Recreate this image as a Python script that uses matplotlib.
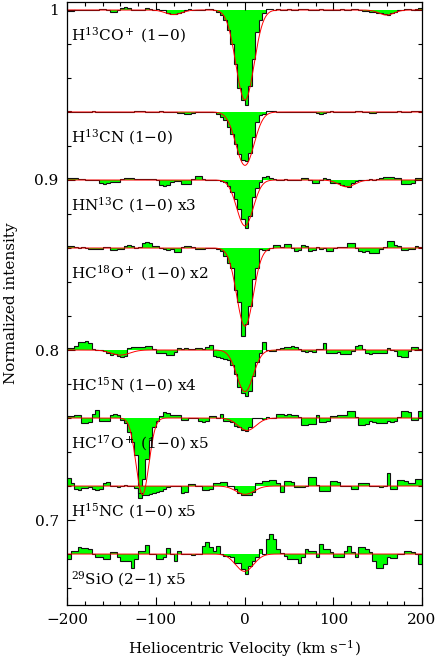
import numpy as np
import matplotlib
matplotlib.use("Agg")
import matplotlib.pyplot as plt
from matplotlib.ticker import MultipleLocator

plt.rcParams['font.family'] = ['DejaVu Serif']
plt.rcParams['mathtext.fontset'] = 'dejavuserif'
plt.rcParams['mathtext.default'] = 'regular'

# channel edges (km/s), 4 km/s channels
edges = np.arange(-200, 201, 4)

labels = ["H$^{13}$CO$^+$ (1$-$0)",
          "H$^{13}$CN (1$-$0)",
          "HN$^{13}$C (1$-$0) x3",
          "HC$^{18}$O$^+$ (1$-$0) x2",
          "HC$^{15}$N (1$-$0) x4",
          "HC$^{17}$O$^+$ (1$-$0) x5",
          "H$^{15}$NC (1$-$0) x5",
          "$^{29}$SiO (2$-$1) x5"]

baselines = [1.00, 0.94, 0.90, 0.86, 0.80, 0.76, 0.72, 0.68]
label_offset = [0.0147, 0.0147, 0.0147, 0.0147, 0.0206, 0.0147, 0.0147, 0.0147]

# deviations from baseline per channel, in units of 1e-3
h13cop = [-0.4, -0.4, -0.3, -0.2, 0, 0.2, 0, -0.2, 0, 0.3,
          0.3, 0, -1.0, -1.2, -0.3, 1.2, 1.6, 1.0, 0.2, 0,
          0, 0.2, 1.0, 0.8, 0, 0.6, 0.2, -0.3, -1.5, -2.2,
          -2.6, -2.0, -1.0, 0, 0.3, 0, -0.2, 0.2, 0, 0.3,
          0.5, 0, -1, -3, -6, -12, -20, -32, -46, -53,
          -56, -45, -29, -13, -6, -2, 0.3, 0.5, 0, 0.3,
          0, -0.3, 0.3, 0, -0.2, 0.4, 0.8, 0.5, 0, -0.3,
          0, 0.3, 0, -0.3, 0, 0.2, 0, 0.5, 0, -0.3,
          0.3, 0.6, 0, -0.5, -0.8, -1.0, -1.2, -1.5, -2.0, -2.5,
          -2.7, -2.0, -1.0, -0.3, 0, 0.3, 0.5, 0, 0.8, 1.0]

h13cn = [0.3, 0, -0.2, 0, 0.2, 0, 0, 0.3, 0, -0.2,
         0, 0.2, 0, 0, -0.3, 0, 0.2, 0, 0, 0.3,
         0.5, 0.6, 0.2, 0, -0.2, 0, 0.3, 0, 0, 0.2,
         0, -0.5, -0.8, -1.0, -1.0, -0.6, -0.3, 0, 0.2, 0,
         0, -0.3, -1, -3, -5, -9, -13, -19, -25, -28,
         -29, -24, -15, -6, -2, -1, 0.4, 0.5, 0.3, 0,
         0.2, 0, -0.3, 0, 0.2, 0, 0, 0.2, 0, -0.3,
         -0.8, -1.0, -0.6, 0, 0.3, 0, -0.2, 0, 0.2, 0,
         0, 0.3, 0.5, 0.2, 0, -0.5, -0.8, -0.3, 0, 0.2,
         0, -0.2, 0, 0.3, 0, -0.2, 0, 0.5, 0.8, 0.6]

hn13c = [1.2, 1.4, 1.0, 0.6, 0.5, 0, 0.2, -0.3, 0, -1.8,
         -2.2, -1.8, -1.4, -1.2, -1.4, 0.8, 1.2, 1.3, 1.0, 0.6,
         0.6, 0.8, 0.4, 0.3, 0.6, 0.2, -3.0, -3.4, -3.0, -1.0,
         -0.8, -0.5, -2.4, -2.6, -2.2, 0.3, 2.5, 2.4, 0.3, 0,
         0.2, 0, -0.3, -0.6, -1.4, -3.3, -7, -11, -17, -23,
         -28, -21, -10, -5, -1.4, 1.8, 2.2, 1.0, 0.8, 0.2,
         0, 0.3, -0.2, 0, 0.2, 0, 1.0, 1.2, 0.2, -1.8,
         -2.0, 0, 1.0, 0.3, -1.5, -1.5, -1.8, -3.0, -3.8, -4.0,
         -2.0, -0.5, 0, 0.2, 0, 0.3, 0, 0.3, 1.2, 1.5,
         1.5, 1.6, 1.4, 1.2, -2.2, -2.6, -2.4, -1.5, 1.0, 1.2]

hc18op = [1.0, 1.2, 0.8, 0, 0.3, 0, -0.5, -0.8, -0.6, -0.3,
          0.5, 0.6, -1.0, -1.2, -0.8, -0.5, 1.4, 1.6, 1.2, 0.2,
          0.5, 3.0, 3.6, 2.8, 1.0, 1.0, 0.2, -0.8, -1.0, -0.8,
          -2.4, -2.2, 0.8, 1.0, 1.0, 0.6, -0.3, -0.5, -0.3, 0,
          0, 0, -0.4, -2, -5, -9, -12, -25, -32, -52,
          -45, -34, -18, -12, -0.5, -1.0, -1.0, 0, 1.5, 1.5,
          0.5, 2.4, 2.2, 0, -1.5, -1.4, 1.5, 1.2, -1.8, -1.0,
          0.8, -0.5, 0, -2.0, -2.0, 0, 0.5, 0.3, 0.8, 3.0,
          2.8, 0, -2.0, -2.2, -1.8, -3.0, -3.2, -2.8, -0.5, 0.3,
          4.3, 4.0, 1.5, 1.4, -1.0, -1.0, -0.8, -0.6, 1.0, 0.8]

hc15n = [1.0, 1.2, 2.5, 4.5, 5.0, 5.2, 4.0, 0.3, 0, 0.2,
         -0.5, -2.0, -3.0, -2.5, -3.5, -4.0, -3.5, 1.2, 2.0, 2.0,
         2.0, 1.8, 2.2, 2.5, 0.5, -2.0, -2.0, -1.5, -3.0, -3.2,
         -1.0, 1.0, 0.8, 1.2, 0.5, 0.8, 1.2, 1.0, 0.5, 1.5,
         3.0, -3.5, -4.0, -4.5, -5.0, -6.0, -9, -14, -22, -25,
         -27, -24, -15, -7, -2, 4.5, 0, -0.5, -0.3, 0.3,
         1.0, 1.5, 2.0, 2.2, 1.5, 0.5, -0.8, -1.0, -0.5, -1.0,
         0.3, 0.5, 4.0, -1.5, -2.0, -2.0, -1.2, -2.5, -2.5, -2.2,
         -0.5, 2.5, 2.8, 0.5, -2.0, -2.2, -1.5, -2.0, -1.8, -2.0,
         1.0, 0, -0.5, -3.5, -4.0, -4.0, -0.5, 1.5, 1.5, 0.5]

hc17op = [1.4, 1.2, 1.5, 2.0, -3.0, -3.2, -2.5, 2.5, 4.5, -2.0,
          -2.0, -1.8, 2.0, 2.2, 1.8, -1.0, -3.0, -8.0, -14, -22,
          -47, -36, -24, -13, -5, -2, 1.0, 3.3, 3.0, 2.0,
          2.0, 1.8, -1.4, -1.2, 0, 0.3, 0, -2.0, -2.2, -1.5,
          1.0, 1.2, 0.3, 2.5, -1.5, -2.0, -2.5, -4.5, -5.5, -7.0,
          -7.5, -5.0, 0.3, 0, 0.2, -0.3, 0.5, 0.2, 0.3, 2.5,
          2.5, 2.0, 2.2, 1.8, 2.0, 0.5, -4.0, -4.2, -3.5, -3.8,
          2.0, -2.5, -2.5, -2.0, 1.0, 1.2, 2.0, 2.0, 1.8, 4.0,
          4.0, 0.5, -4.0, -4.2, -3.8, -2.0, -2.2, -3.0, -3.2, -2.8,
          -2.0, -2.2, -1.5, 0.5, 4.0, 4.2, 3.8, -1.0, -1.0, 4.0]

h15nc = [5.0, 2.0, -2.0, -2.2, -1.0, -1.0, -0.8, -2.0, -2.2, -2.0,
         2.0, 2.2, 0.3, 0, -0.3, 0, 0.5, 0.3, 0, -1.0,
         -4.0, -5.0, -5.0, -4.5, -4.0, -3.5, -3.0, -2.0, -0.5, 0,
         0.3, 0, -4.0, -3.5, 1.0, 1.0, 0, 0.3, -2.4, -2.4,
         -2.0, 2.0, 2.0, 2.4, 2.2, 0.3, 0, -2.0, -4.0, -5.0,
         -5.5, -5.0, -3.5, 1.5, 1.5, 3.0, 3.0, 3.3, 3.3, 2.0,
         -3.5, 3.0, 3.2, 2.5, -0.5, -0.3, -0.5, 0, 5.5, 5.5,
         0.5, -3.0, -3.0, -2.8, 3.0, 3.0, 2.5, 0, 0.3, 0,
         -2.0, -2.0, 2.0, 2.0, 1.5, 0, 0.3, 0, -0.3, 0,
         7.5, -2.0, -1.5, 3.3, 3.3, 3.0, 2.0, 2.0, 4.0, 4.0]

sio29 = [-3.0, 2.0, 2.0, 4.0, 3.5, 3.5, 3.0, 0, -2.0, -2.0,
         -3.0, -3.0, 1.4, 1.4, -1.5, -4.0, -4.0, -4.0, -8.0, -3.0,
         2.0, 2.0, 5.5, 0.3, 0, -3.0, -3.0, -2.0, 3.5, 0,
         -4.0, 1.6, 0, 0.3, 0, -0.3, 0, 0.3, 5.0, 7.0,
         4.0, 2.0, 5.0, 0, -1.0, -1.0, -2.0, -5.5, -5.5, -9.0,
         -12, -7, -4, -2, 3.0, 0, 9.0, 12, 9.0, 3.0,
         0.5, -1.0, -3.0, -3.0, -3.0, -5.0, -2.0, 3.0, 2.0, 2.0,
         -2.0, 6.0, 3.0, 3.0, 1.0, -2.0, -2.0, -2.0, 2.0, 5.0,
         1.0, -2.0, 4.0, 4.0, 3.0, 1.0, -4.0, -8.0, -8.0, -6.0,
         -2.0, -2.5, -2.5, 0, 0.3, 2.0, 2.0, 1.0, 0, -6.0]

spectra = [h13cop, h13cn, hn13c, hc18op, hc15n, hc17op, h15nc, sio29]

# gaussian model components per panel: (centre km/s, depth, fwhm km/s)
models = [[(0.5, 0.053, 24), (-80, 0.0027, 22), (160, 0.003, 20)],
          [(0.5, 0.0314, 24)],
          [(0.5, 0.027, 22), (115, 0.004, 22)],
          [(0.5, 0.046, 22)],
          [(0.5, 0.0245, 22), (-140, 0.003, 25)],
          [(-115, 0.045, 17), (2.8, 0.0073, 24)],
          [(0.5, 0.0049, 24)],
          [(0.0, 0.0102, 24)]]

fig = plt.figure(figsize=(4.36, 6.58), dpi=100)
ax = fig.add_axes([0.1537, 0.0805, 0.8143, 0.9165])

vgrid = np.linspace(-200, 200, 801)
for base, dev, comps, lab, off in zip(baselines, spectra, models, labels, label_offset):
    vals = base + np.array(dev) * 1e-3
    ax.stairs(vals, edges, baseline=base, fill=True, color='#00ff00', lw=0)
    ax.stairs(vals, edges, baseline=None, color='#111111', lw=0.8)
    model = np.full_like(vgrid, base)
    for c, d, w in comps:
        model -= d * np.exp(-4 * np.log(2) * ((vgrid - c) / w) ** 2)
    ax.plot(vgrid, model, color='#ff0000', lw=0.7)
    ax.text(-196, base - off, lab, fontsize=11, va='center', ha='left')

ax.set_xlim(-200, 200)
ax.set_ylim(0.65, 1.0047)
ax.xaxis.set_major_locator(MultipleLocator(100))
ax.xaxis.set_minor_locator(MultipleLocator(20))
ax.yaxis.set_minor_locator(MultipleLocator(0.02))
ax.set_yticks([0.7, 0.8, 0.9, 1.0])
ax.set_yticklabels(["0.7", "0.8", "0.9", "1"])
ax.tick_params(which='both', direction='in', top=True, right=True, labelsize=11)
ax.tick_params(which='major', length=6, width=0.8, pad=6)
ax.tick_params(which='minor', length=3, width=0.8)
for s in ax.spines.values():
    s.set_linewidth(0.9)

ax.set_xlabel("Heliocentric Velocity (km s$^{-1}$)", fontsize=11, labelpad=8)
ax.set_ylabel("Normalized intensity", fontsize=11, labelpad=12)

fig.savefig("out.png", dpi=100)
